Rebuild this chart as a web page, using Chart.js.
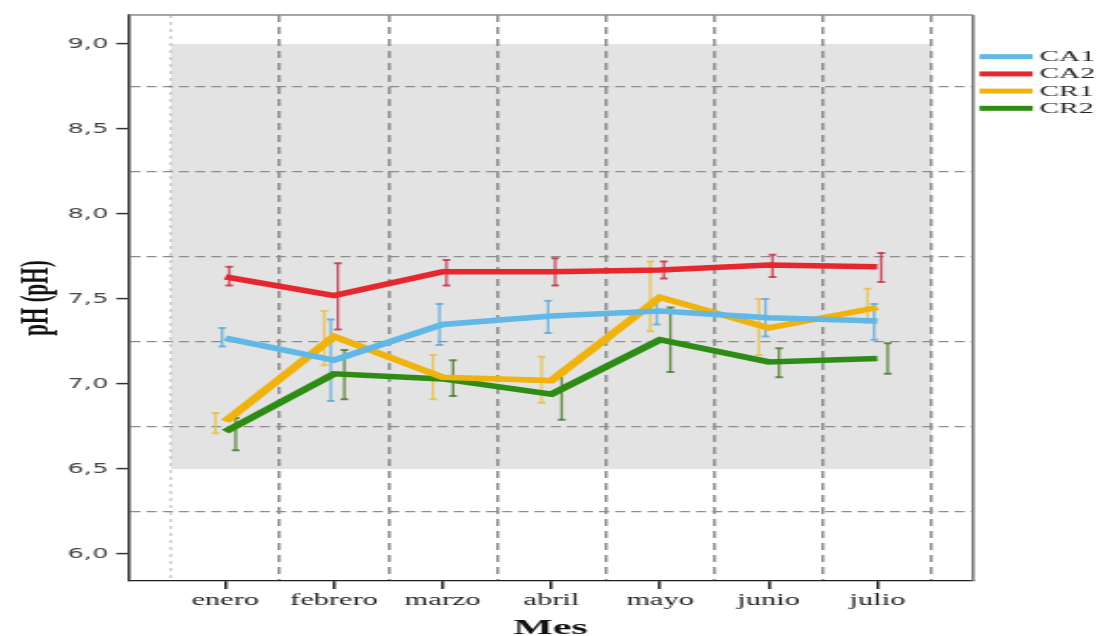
<!DOCTYPE html>
<html>
<head>
<meta charset="utf-8">
<script src="https://cdn.jsdelivr.net/npm/chart.js@4/dist/chart.umd.min.js"></script>
<style>
  html, body { margin: 0; padding: 0; background: #fff; overflow: hidden; }
  #wrap { width: 1097px; height: 636px; position: relative; overflow: hidden; background: #fff; }
  #c { position: absolute; left: 0; top: 0; transform-origin: 0 0; }
</style>
</head>
<body>
<div id="wrap"><canvas id="c"></canvas></div>
<script>
// Months on the x axis
const months = ['enero', 'febrero', 'marzo', 'abril', 'mayo', 'junio', 'julio'];
const seriesNames = ['CA1', 'CA2', 'CR1', 'CR2'];

// Mean pH per month and the limits of each error bar
const ca1Mean = [7.27, 7.14, 7.35, 7.40, 7.43, 7.39, 7.37];
const ca1Low  = [7.22, 6.90, 7.23, 7.30, 7.35, 7.28, 7.26];
const ca1High = [7.33, 7.38, 7.47, 7.49, 7.50, 7.50, 7.47];

const ca2Mean = [7.63, 7.52, 7.66, 7.66, 7.67, 7.70, 7.69];
const ca2Low  = [7.58, 7.32, 7.58, 7.58, 7.62, 7.63, 7.60];
const ca2High = [7.69, 7.71, 7.73, 7.74, 7.72, 7.76, 7.77];

const cr1Mean = [6.78, 7.28, 7.04, 7.02, 7.51, 7.33, 7.45];
const cr1Low  = [6.71, 7.11, 6.91, 6.89, 7.31, 7.17, 7.36];
const cr1High = [6.83, 7.43, 7.17, 7.16, 7.72, 7.50, 7.56];

const cr2Mean = [6.72, 7.06, 7.03, 6.94, 7.26, 7.13, 7.15];
const cr2Low  = [6.61, 6.91, 6.93, 6.79, 7.07, 7.04, 7.06];
const cr2High = [6.80, 7.20, 7.14, 7.06, 7.45, 7.21, 7.24];

// Y axis: labelled ticks and the dashed reference lines between them
const yLabelValues = [6.0, 6.5, 7.0, 7.5, 8.0, 8.5, 9.0];
const yGridValues  = [6.25, 6.75, 7.25, 7.75, 8.25, 8.75];

// Shaded reference band (pH range)
const bandLow = 6.5;
const bandHigh = 9.0;

// ---- drawing setup ----
const FULL_W = 1097, FULL_H = 636;
const STRETCH = 1.9;                     // horizontal stretch of the figure
const W = Math.round(FULL_W / STRETCH);
const SX = FULL_W / W;

const canvas = document.getElementById('c');
canvas.width = W;
canvas.height = FULL_H;
canvas.style.width = W + 'px';
canvas.style.height = FULL_H + 'px';
canvas.style.transform = 'scaleX(' + SX + ')';

const AREA_LEFT = 128.3 / SX;
const AREA_RIGHT = 973 / SX;
const AREA_TOP = 15;
const AREA_BOTTOM = 581;

const styles = {
  CA1: { line: 'rgb(96,184,230)',  bar: 'rgba(92,172,218,0.85)', dx: -0.03 },
  CA2: { line: 'rgb(230,40,46)',   bar: 'rgba(196,52,72,0.85)',  dx: 0.035 },
  CR1: { line: 'rgb(240,178,12)',  bar: 'rgba(232,192,70,0.85)', dx: -0.09 },
  CR2: { line: 'rgb(46,140,20)',   bar: 'rgba(78,122,44,0.85)',  dx: 0.095 }
};

const seriesData = {
  CA1: { mean: ca1Mean, low: ca1Low, high: ca1High },
  CA2: { mean: ca2Mean, low: ca2Low, high: ca2High },
  CR1: { mean: cr1Mean, low: cr1Low, high: cr1High },
  CR2: { mean: cr2Mean, low: cr2Low, high: cr2High }
};

const datasets = [];
seriesNames.forEach(name => {
  const s = seriesData[name], st = styles[name];
  datasets.push({
    label: name,
    data: months.map((m, i) => ({ x: i, y: s.mean[i] })),
    borderColor: st.line,
    borderWidth: 5.5,
    pointRadius: 0,
    fill: false,
    tension: 0,
    order: 0
  });
});
seriesNames.forEach(name => {
  const s = seriesData[name], st = styles[name];
  const pts = [];
  months.forEach((m, i) => {
    pts.push({ x: i + st.dx, y: s.low[i] });
    pts.push({ x: i + st.dx, y: s.high[i] });
    pts.push({ x: i + st.dx, y: null });
  });
  datasets.push({
    label: name + ' IC',
    data: pts,
    showLine: true,
    spanGaps: false,
    borderColor: st.bar,
    borderWidth: 1.3,
    pointStyle: 'line',
    pointRadius: 2,
    pointBorderWidth: 2,
    pointBorderColor: st.bar,
    pointBackgroundColor: st.bar,
    fill: false,
    order: 1
  });
});

const isHalf = v => Math.abs(v * 2 - Math.round(v * 2)) < 1e-6;
const isWhole = v => Math.abs(v - Math.round(v)) < 1e-6;

// Gray band behind the grid
const bandPlugin = {
  id: 'band',
  beforeDraw(chart) {
    const { ctx, scales: { x, y } } = chart;
    const l = x.getPixelForValue(-0.5);
    const r = x.getPixelForValue(months.length - 0.5);
    const t = y.getPixelForValue(bandHigh);
    const b = y.getPixelForValue(bandLow);
    ctx.save();
    ctx.fillStyle = '#e3e3e3';
    ctx.fillRect(l, t, r - l, b - t);
    ctx.restore();
  }
};

// Top and right frame lines
const framePlugin = {
  id: 'frame',
  beforeDatasetsDraw(chart) {
    const { ctx, chartArea: a } = chart;
    ctx.save();
    ctx.strokeStyle = '#8a8a8a';
    ctx.lineWidth = 1.4;
    ctx.beginPath();
    ctx.moveTo(a.left, a.top);
    ctx.lineTo(a.right, a.top);
    ctx.stroke();
    ctx.strokeStyle = '#7a7a7a';
    ctx.lineWidth = 1.6;
    ctx.beginPath();
    ctx.moveTo(a.right, a.top);
    ctx.lineTo(a.right, a.bottom);
    ctx.stroke();
    ctx.restore();
  }
};

// Series key at the right of the plot
const keyPlugin = {
  id: 'key',
  afterDraw(chart) {
    const { ctx, chartArea: a } = chart;
    const x0 = a.right + 3.4;
    const x1 = x0 + 28;
    const tx = x1 + 3.6;
    ctx.save();
    ctx.font = '15.5px "Liberation Serif", serif';
    ctx.textBaseline = 'middle';
    ctx.textAlign = 'left';
    seriesNames.forEach((name, i) => {
      const yy = 56.7 + i * 17.2;
      ctx.strokeStyle = styles[name].line;
      ctx.lineWidth = 5;
      ctx.beginPath();
      ctx.moveTo(x0, yy);
      ctx.lineTo(x1, yy);
      ctx.stroke();
      ctx.fillStyle = '#222';
      ctx.fillText(name, tx, yy + 0.5);
    });
    ctx.restore();
  }
};

const xTickValues = [];
for (let v = -0.5; v <= months.length - 0.5 + 1e-9; v += 0.5) xTickValues.push(v);
const yTickValues = yLabelValues.concat(yGridValues).sort((a, b) => a - b);

const xMin = -0.5 - (171 - 128.3) / 108.67;
const xMax = months.length - 0.5 + (973 - 931.7) / 108.67;
const yMax = 9.0 + (44 - AREA_TOP) / 170;
const yMin = 6.0 - (AREA_BOTTOM - 554) / 170;

new Chart(canvas, {
  type: 'line',
  data: { datasets },
  plugins: [bandPlugin, framePlugin, keyPlugin],
  options: {
    responsive: false,
    animation: false,
    devicePixelRatio: 1,
    events: [],
    layout: { padding: { left: 0, right: W - AREA_RIGHT, top: AREA_TOP, bottom: 0 } },
    plugins: { legend: { display: false }, tooltip: { enabled: false } },
    scales: {
      x: {
        type: 'linear',
        min: xMin,
        max: xMax,
        bounds: 'data',
        afterBuildTicks(scale) { scale.ticks = xTickValues.map(v => ({ value: v })); },
        afterFit(scale) { scale.height = FULL_H - AREA_BOTTOM; },
        ticks: {
          autoSkip: false,
          maxRotation: 0,
          minRotation: 0,
          padding: 2,
          color: '#1a1a1a',
          font: { family: '"Liberation Serif", serif', size: 16 },
          callback: v => (isWhole(v) && v >= 0 && v < months.length) ? months[Math.round(v)] : ''
        },
        grid: {
          drawOnChartArea: true,
          lineWidth: 1.5,
          color: c => {
            const v = c.tick ? c.tick.value : 0;
            if (isWhole(v)) return 'rgba(0,0,0,0)';
            return v < 0 ? '#cdcdcd' : '#8c8c8c';
          },
          tickLength: 8,
          tickWidth: 1.5,
          tickColor: c => (c.tick && isWhole(c.tick.value)) ? '#222' : 'rgba(0,0,0,0)'
        },
        border: {
          display: true,
          color: '#1e1e1e',
          width: 1.2,
          dash: c => (c.tick && c.tick.value < 0) ? [3, 4] : [7, 5]
        },
        title: {
          display: true,
          text: 'Mes',
          color: '#111',
          font: { family: '"Liberation Serif", serif', size: 22, weight: 'bold', lineHeight: 0.5 },
          padding: { top: 0, bottom: 2.5 }
        }
      },
      y: {
        type: 'linear',
        min: yMin,
        max: yMax,
        bounds: 'data',
        afterBuildTicks(scale) { scale.ticks = yTickValues.map(v => ({ value: v })); },
        afterFit(scale) { scale.width = AREA_LEFT; },
        ticks: {
          autoSkip: false,
          padding: 4.2,
          color: '#444',
          font: { family: '"DejaVu Sans", sans-serif', size: 13.5 },
          callback: v => isHalf(v) ? v.toFixed(1).replace('.', ',') : ''
        },
        grid: {
          drawOnChartArea: true,
          lineWidth: 1.2,
          color: c => (c.tick && isHalf(c.tick.value)) ? 'rgba(0,0,0,0)' : '#8c8c8c',
          tickLength: 6.3,
          tickWidth: 1.5,
          tickColor: c => (c.tick && isHalf(c.tick.value)) ? '#333' : 'rgba(0,0,0,0)'
        },
        border: {
          display: true,
          color: '#3c3c3c',
          width: 1.6,
          dash: [5.3, 3.2]
        },
        title: {
          display: true,
          text: 'pH (pH)',
          color: '#111',
          font: { family: '"Liberation Serif", serif', size: 21, weight: 'bold' },
          padding: { top: 7, bottom: 0 }
        }
      }
    }
  }
});
</script>
</body>
</html>
